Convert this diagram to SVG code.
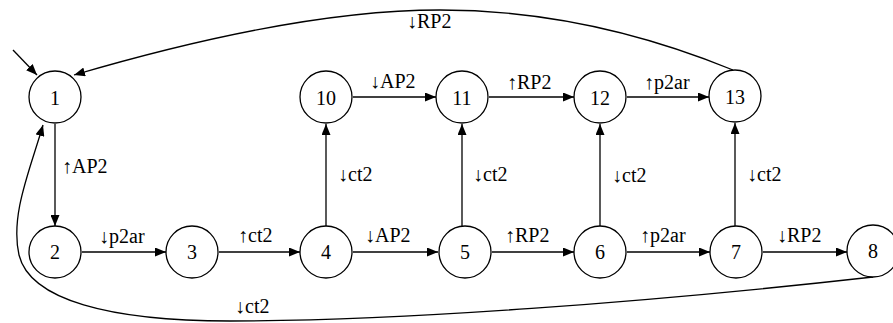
<svg xmlns="http://www.w3.org/2000/svg" width="893" height="323" viewBox="0 0 893 323">
<style>
  .node circle { fill: #fff; stroke: #000; stroke-width: 1.3; }
  .node text { font-family: "Liberation Serif", "Times New Roman", serif; font-size: 20px; text-anchor: middle; fill: #000; }
  .edges path, .edges line { fill: none; stroke: #000; stroke-width: 1.3; marker-end: url(#arr); }
  .lbl { font-family: "Liberation Serif", "Times New Roman", serif; font-size: 20px; fill: #000; }
</style>
<defs>
  <marker id="arr" markerUnits="userSpaceOnUse" markerWidth="11" markerHeight="9" refX="11" refY="4.5" orient="auto">
    <path d="M0,0 L11,4.5 L0,9 z" fill="#000"/>
  </marker>
</defs>
<rect width="893" height="323" fill="#fff"/>
<g class="edges">
  <line x1="13" y1="50" x2="37" y2="75"/>
  <line x1="55" y1="124" x2="55" y2="226"/>
  <line x1="82" y1="252" x2="166" y2="252"/>
  <line x1="219" y1="252" x2="300" y2="252"/>
  <line x1="353" y1="252" x2="438" y2="252"/>
  <line x1="492" y1="252" x2="574" y2="252"/>
  <line x1="627" y1="252" x2="710" y2="252"/>
  <line x1="763" y1="252" x2="847" y2="252"/>
  <line x1="353" y1="97" x2="436" y2="97"/>
  <line x1="489" y1="97" x2="574" y2="97"/>
  <line x1="627" y1="97" x2="709" y2="97"/>
  <line x1="326" y1="226" x2="326" y2="124"/>
  <line x1="462" y1="226" x2="462" y2="124"/>
  <line x1="600" y1="226" x2="600" y2="124"/>
  <line x1="735" y1="226" x2="735" y2="123"/>
  <path d="M733,70 C640,32 540,10 440,10 C330,10 200,38 74,75"/>
  <path d="M873,277 C650,302 400,321 230,321 C110,321 30,300 19,255 C10,215 30,170 43,125"/>
</g>
<g id="n1" class="node"><circle cx="55" cy="97" r="26"/><text x="55" y="104.5">1</text></g>
<g id="n2" class="node"><circle cx="55" cy="252" r="26"/><text x="55" y="259">2</text></g>
<g id="n3" class="node"><circle cx="192" cy="252" r="26"/><text x="192" y="259">3</text></g>
<g id="n4" class="node"><circle cx="326" cy="252" r="26"/><text x="326" y="259">4</text></g>
<g id="n5" class="node"><circle cx="465" cy="252" r="26"/><text x="465" y="259">5</text></g>
<g id="n6" class="node"><circle cx="600" cy="252" r="26"/><text x="600" y="259">6</text></g>
<g id="n7" class="node"><circle cx="736" cy="252" r="26"/><text x="736" y="259">7</text></g>
<g id="n8" class="node"><circle cx="873" cy="251" r="26"/><text x="873" y="258">8</text></g>
<g id="n10" class="node"><circle cx="326" cy="97" r="26"/><text x="326" y="104.5">10</text></g>
<g id="n11" class="node"><circle cx="462" cy="97" r="26"/><text x="462" y="104.5">11</text></g>
<g id="n12" class="node"><circle cx="600" cy="97" r="26"/><text x="600" y="104.5">12</text></g>
<g id="n13" class="node"><circle cx="735" cy="96" r="26"/><text x="735" y="103.5">13</text></g>
<g id="labels">
  <text class="lbl" x="62" y="173">↑AP2</text>
  <text class="lbl" x="370" y="88">↓AP2</text>
  <text class="lbl" x="507" y="89">↑RP2</text>
  <text class="lbl" x="644" y="89">↑p2ar</text>
  <text class="lbl" x="407" y="28">↓RP2</text>
  <text class="lbl" x="338" y="181">↓ct2</text>
  <text class="lbl" x="473" y="181">↓ct2</text>
  <text class="lbl" x="612" y="182">↓ct2</text>
  <text class="lbl" x="747" y="181">↓ct2</text>
  <text class="lbl" x="99" y="243">↓p2ar</text>
  <text class="lbl" x="238" y="242">↑ct2</text>
  <text class="lbl" x="365" y="242">↓AP2</text>
  <text class="lbl" x="505" y="242">↑RP2</text>
  <text class="lbl" x="640" y="242">↑p2ar</text>
  <text class="lbl" x="777" y="242">↓RP2</text>
  <text class="lbl" x="235" y="313">↓ct2</text>
</g>
</svg>
